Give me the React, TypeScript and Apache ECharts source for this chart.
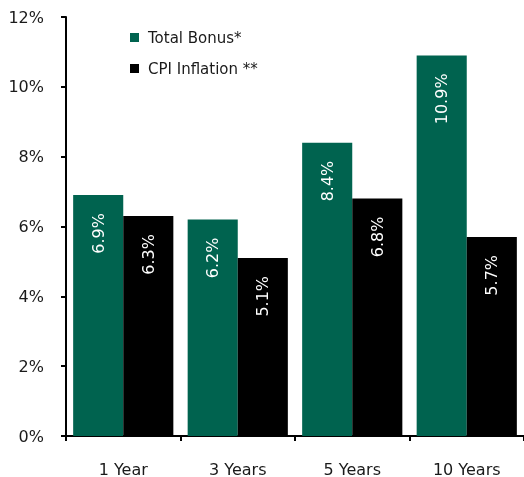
import React, { useEffect, useRef } from "react";
import * as echarts from "echarts";

const categories = ["1 Year", "3 Years", "5 Years", "10 Years"];
const totalBonus = [6.9, 6.2, 8.4, 10.9];
const cpiInflation = [6.3, 5.1, 6.8, 5.7];
const seriesNames = ["Total Bonus*", "CPI Inflation **"];

const FONT = "DejaVu Sans";
const TEXT = "#1a1a1a";

export default function App() {
  const ref = useRef<HTMLDivElement>(null);
  useEffect(() => {
    if (!ref.current) return;
    const chart = echarts.init(ref.current, null, { renderer: "svg" });
    const label = {
      show: true,
      position: "insideTop",
      distance: 18,
      rotate: 90,
      align: "right",
      verticalAlign: "middle",
      color: "#ffffff",
      fontSize: 16,
      fontFamily: FONT,
      formatter: (p: any) => p.value.toFixed(1) + "%",
    };
    chart.setOption({
      animation: false,
      textStyle: { fontFamily: FONT },
      legend: {
        orient: "vertical",
        left: 130,
        top: 30,
        padding: 0,
        itemWidth: 9,
        itemHeight: 9,
        itemGap: 16,
        icon: "rect",
        textStyle: { fontSize: 15, color: TEXT, fontFamily: FONT, padding: [0, 0, 0, 4] },
        data: seriesNames,
      },
      grid: { left: 66, right: 0, top: 17, bottom: 41, containLabel: false },
      xAxis: {
        type: "category",
        data: categories,
        axisLine: { lineStyle: { color: "#000", width: 2 } },
        axisTick: { show: true, length: 5, lineStyle: { color: "#000", width: 2 } },
        axisLabel: { fontSize: 16, color: TEXT, margin: 25, fontFamily: FONT },
      },
      yAxis: {
        type: "value",
        min: 0,
        max: 12,
        interval: 2,
        axisLine: { show: true, lineStyle: { color: "#000", width: 2 } },
        axisTick: { show: true, length: 5, lineStyle: { color: "#000", width: 2 } },
        splitLine: { show: false },
        axisLabel: {
          fontSize: 16,
          color: TEXT,
          margin: 22,
          fontFamily: FONT,
          formatter: (v: number) => v + "%",
        },
      },
      series: [
        {
          name: seriesNames[0],
          type: "bar",
          data: totalBonus,
          barGap: "0%",
          barCategoryGap: "12.5%",
          itemStyle: { color: "#00634f" },
          label,
        },
        {
          name: seriesNames[1],
          type: "bar",
          data: cpiInflation,
          itemStyle: { color: "#000000" },
          label,
        },
      ],
    });
    return () => chart.dispose();
  }, []);
  return (
    <div
      ref={ref}
      style={{ position: "fixed", left: 0, top: 0, width: 524, height: 477 }}
    />
  );
}
